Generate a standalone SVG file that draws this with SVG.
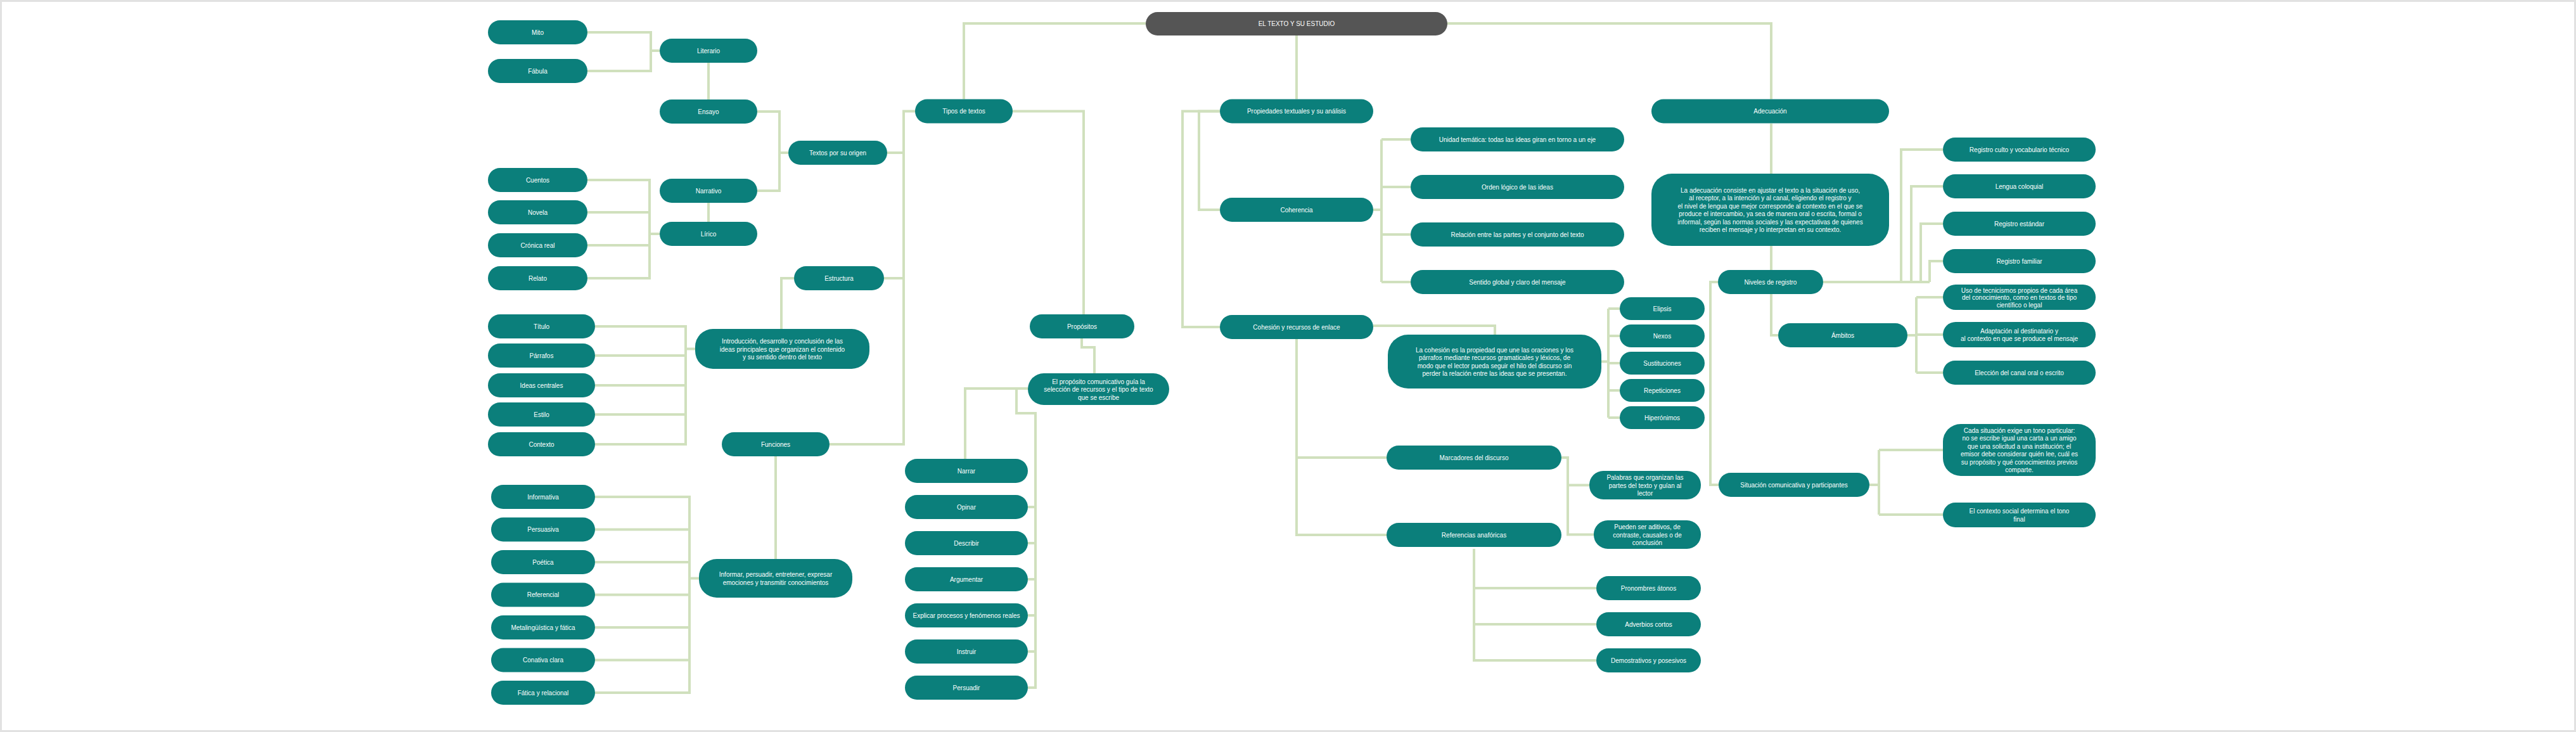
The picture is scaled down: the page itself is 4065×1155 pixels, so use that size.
<svg xmlns="http://www.w3.org/2000/svg" width="4065" height="1155" viewBox="0 0 4065 1155">
<!-- NOTE: the reference image is blurred so that none of its labels can be read, even when zoomed in. All label texts below are invented placeholders, chosen only to roughly match the length and line count of each blurred label. They are not transcriptions of the original. -->
<style>
.bg{fill:#ffffff;stroke:#e2e2e2;stroke-width:3}
.n{fill:#0b7f7b}
.r{fill:#555555}
.t{fill:#ffffff;font-family:"Liberation Sans",Arial,sans-serif;font-size:10px;text-anchor:middle;dominant-baseline:central}
.c{fill:none;stroke:#d0e0bd;stroke-width:4;stroke-linejoin:miter}
</style>
<rect class="bg" x="1.5" y="1.5" width="4062" height="1152"/>
<g id="connectors">
<path class="c" d="M1808,37 H1521 V156.5"/>
<path class="c" d="M2046,56 V156.5"/>
<path class="c" d="M2284,37 H2795 V156.5"/>
<path class="c" d="M927,51 H1027 V112 H927 M1027,80 H1041"/>
<path class="c" d="M1118,99 V157"/>
<path class="c" d="M1195,176 H1230 V301 H1195 M1230,241 H1244"/>
<path class="c" d="M1118,320 V350"/>
<path class="c" d="M927,284 H1025 V439 H927 M927,335 H1025 M927,387 H1025 M1025,369 H1041"/>
<path class="c" d="M1444,175.5 H1426 V701 H1309 M1426,241 H1400 M1426,439 H1395"/>
<path class="c" d="M1253,439 H1233 V519"/>
<path class="c" d="M939,515 H1082 V701 H939 M939,561 H1082 M939,608 H1082 M939,654 H1082 M1082,550.5 H1097"/>
<path class="c" d="M1224,720 V882"/>
<path class="c" d="M939,784 H1088 V1093 H939 M939,835.5 H1088 M939,887 H1088 M939,938.5 H1088 M939,990 H1088 M939,1041.5 H1088 M1088,912.5 H1103"/>
<path class="c" d="M1598,175.5 H1710 V496"/>
<path class="c" d="M1707,534 V548 H1727 V589"/>
<path class="c" d="M1622,613 H1523 V724"/>
<path class="c" d="M1622,613 H1604 V652 H1634 V1085 H1622 M1634,800 H1622 M1634,857 H1622 M1634,914 H1622 M1634,971 H1622 M1634,1028 H1622"/>
<path class="c" d="M1925,175.5 H1892 V331 H1925"/>
<path class="c" d="M1925,175.5 H1866 V516 H1925"/>
<path class="c" d="M2167,331 H2180 M2180,220 V445 M2180,220 H2226 M2180,295 H2226 M2180,370 H2226 M2180,445 H2226"/>
<path class="c" d="M2167,514 H2359 V528"/>
<path class="c" d="M2046,535 V844 H2188 M2046,722 H2188"/>
<path class="c" d="M2464,722 H2474 V843.5 H2515 M2474,765.5 H2508"/>
<path class="c" d="M2326,866 V1042 H2519 M2326,928 H2519 M2326,985 H2519"/>
<path class="c" d="M2527,570.5 H2538 M2538,487 V659 M2538,487 H2556 M2538,530 H2556 M2538,573 H2556 M2538,616 H2556 M2538,659 H2556"/>
<path class="c" d="M2795,195 V274"/>
<path class="c" d="M2795,388 V426"/>
<path class="c" d="M2877,445 H3045 M3000,445 V236 H3066 M3016,445 V294 H3066 M3031,445 V353 H3066 M3045,445 V412 H3066"/>
<path class="c" d="M2795,464 V529 H2806"/>
<path class="c" d="M3010,529 H3024 M3024,469 V588 M3024,469 H3066 M3024,528 H3066 M3024,588 H3066"/>
<path class="c" d="M2711,445 H2699 V765 H2712"/>
<path class="c" d="M2950,765 H2965 M2965,710 V812 M2965,710 H3066 M2965,812 H3066"/>
</g>
<g id="n-root"><rect class="r" x="1808" y="19" width="476" height="37" rx="18.5"/><text class="t" x="2046" y="37.5">EL TEXTO Y SU ESTUDIO</text></g>
<g id="n-l1a"><rect class="n" x="770" y="32" width="157" height="38" rx="19"/><text class="t" x="848.5" y="51">Mito</text></g>
<g id="n-l1b"><rect class="n" x="770" y="93" width="157" height="38" rx="19"/><text class="t" x="848.5" y="112">Fábula</text></g>
<g id="n-j"><rect class="n" x="1041" y="61" width="154" height="38" rx="19"/><text class="t" x="1118" y="80">Literario</text></g>
<g id="n-h"><rect class="n" x="1041" y="157" width="154" height="38" rx="19"/><text class="t" x="1118" y="176">Ensayo</text></g>
<g id="n-b"><rect class="n" x="1244" y="222" width="156" height="38" rx="19"/><text class="t" x="1322" y="241">Textos por su origen</text></g>
<g id="n-l2a"><rect class="n" x="770" y="265" width="157" height="38" rx="19"/><text class="t" x="848.5" y="284">Cuentos</text></g>
<g id="n-l2b"><rect class="n" x="770" y="316" width="157" height="38" rx="19"/><text class="t" x="848.5" y="335">Novela</text></g>
<g id="n-l2c"><rect class="n" x="770" y="368" width="157" height="38" rx="19"/><text class="t" x="848.5" y="387">Crónica real</text></g>
<g id="n-l2d"><rect class="n" x="770" y="420" width="157" height="38" rx="19"/><text class="t" x="848.5" y="439">Relato</text></g>
<g id="n-i"><rect class="n" x="1041" y="282" width="154" height="38" rx="19"/><text class="t" x="1118" y="301">Narrativo</text></g>
<g id="n-k"><rect class="n" x="1041" y="350" width="154" height="38" rx="19"/><text class="t" x="1118" y="369">Lírico</text></g>
<g id="n-c"><rect class="n" x="1253" y="420" width="142" height="38" rx="19"/><text class="t" x="1324" y="439">Estructura</text></g>
<g id="n-l3a"><rect class="n" x="770" y="496" width="169" height="38" rx="19"/><text class="t" x="854.5" y="515">Título</text></g>
<g id="n-l3b"><rect class="n" x="770" y="542" width="169" height="38" rx="19"/><text class="t" x="854.5" y="561">Párrafos</text></g>
<g id="n-l3c"><rect class="n" x="770" y="589" width="169" height="38" rx="19"/><text class="t" x="854.5" y="608">Ideas centrales</text></g>
<g id="n-l3d"><rect class="n" x="770" y="635" width="169" height="38" rx="19"/><text class="t" x="854.5" y="654">Estilo</text></g>
<g id="n-l3e"><rect class="n" x="770" y="682" width="169" height="38" rx="19"/><text class="t" x="854.5" y="701">Contexto</text></g>
<g id="n-m"><rect class="n" x="1097" y="519" width="275" height="63" rx="28"/><text class="t" x="1234.5" y="538"><tspan x="1234.5" y="538">Introducción, desarrollo y conclusión de las</tspan><tspan x="1234.5" y="550.5">ideas principales que organizan el contenido</tspan><tspan x="1234.5" y="563">y su sentido dentro del texto</tspan></text></g>
<g id="n-d"><rect class="n" x="1139" y="682" width="170" height="38" rx="19"/><text class="t" x="1224" y="701">Funciones</text></g>
<g id="n-n"><rect class="n" x="1103" y="882" width="242" height="61" rx="28"/><text class="t" x="1224" y="906"><tspan x="1224" y="906">Informar, persuadir, entretener, expresar</tspan><tspan x="1224" y="918.5">emociones y transmitir conocimientos</tspan></text></g>
<g id="n-l4a"><rect class="n" x="775" y="765" width="164" height="38" rx="19"/><text class="t" x="857" y="784">Informativa</text></g>
<g id="n-l4b"><rect class="n" x="775" y="816.5" width="164" height="38" rx="19"/><text class="t" x="857" y="835.5">Persuasiva</text></g>
<g id="n-l4c"><rect class="n" x="775" y="868" width="164" height="38" rx="19"/><text class="t" x="857" y="887">Poética</text></g>
<g id="n-l4d"><rect class="n" x="775" y="919.5" width="164" height="38" rx="19"/><text class="t" x="857" y="938.5">Referencial</text></g>
<g id="n-l4e"><rect class="n" x="775" y="971" width="164" height="38" rx="19"/><text class="t" x="857" y="990">Metalingüística y fática</text></g>
<g id="n-l4f"><rect class="n" x="775" y="1022.5" width="164" height="38" rx="19"/><text class="t" x="857" y="1041.5">Conativa clara</text></g>
<g id="n-l4g"><rect class="n" x="775" y="1074" width="164" height="38" rx="19"/><text class="t" x="857" y="1093">Fática y relacional</text></g>
<g id="n-a"><rect class="n" x="1444" y="156.5" width="154" height="38" rx="19"/><text class="t" x="1521" y="175.5">Tipos de textos</text></g>
<g id="n-e"><rect class="n" x="1625" y="496" width="165" height="38" rx="19"/><text class="t" x="1707.5" y="515">Propósitos</text></g>
<g id="n-f"><rect class="n" x="1622" y="589" width="223" height="50" rx="25"/><text class="t" x="1733.5" y="601.5"><tspan x="1733.5" y="601.5">El propósito comunicativo guía la</tspan><tspan x="1733.5" y="614">selección de recursos y el tipo de texto</tspan><tspan x="1733.5" y="626.5">que se escribe</tspan></text></g>
<g id="n-g1"><rect class="n" x="1428" y="724" width="194" height="38" rx="19"/><text class="t" x="1525" y="743">Narrar</text></g>
<g id="n-g2"><rect class="n" x="1428" y="781" width="194" height="38" rx="19"/><text class="t" x="1525" y="800">Opinar</text></g>
<g id="n-g3"><rect class="n" x="1428" y="838" width="194" height="38" rx="19"/><text class="t" x="1525" y="857">Describir</text></g>
<g id="n-g4"><rect class="n" x="1428" y="895" width="194" height="38" rx="19"/><text class="t" x="1525" y="914">Argumentar</text></g>
<g id="n-g5"><rect class="n" x="1428" y="952" width="194" height="38" rx="19"/><text class="t" x="1525" y="971">Explicar procesos y fenómenos reales</text></g>
<g id="n-g6"><rect class="n" x="1428" y="1009" width="194" height="38" rx="19"/><text class="t" x="1525" y="1028">Instruir</text></g>
<g id="n-g7"><rect class="n" x="1428" y="1066" width="194" height="38" rx="19"/><text class="t" x="1525" y="1085">Persuadir</text></g>
<g id="n-p"><rect class="n" x="1925" y="156.5" width="242" height="38" rx="19"/><text class="t" x="2046" y="175.5">Propiedades textuales y su análisis</text></g>
<g id="n-q"><rect class="n" x="1925" y="312" width="242" height="38" rx="19"/><text class="t" x="2046" y="331">Coherencia</text></g>
<g id="n-r"><rect class="n" x="1925" y="497" width="242" height="38" rx="19"/><text class="t" x="2046" y="516">Cohesión y recursos de enlace</text></g>
<g id="n-s1"><rect class="n" x="2226" y="201" width="337" height="38" rx="19"/><text class="t" x="2394.5" y="220">Unidad temática: todas las ideas giran en torno a un eje</text></g>
<g id="n-s2"><rect class="n" x="2226" y="276" width="337" height="38" rx="19"/><text class="t" x="2394.5" y="295">Orden lógico de las ideas</text></g>
<g id="n-s3"><rect class="n" x="2226" y="351" width="337" height="38" rx="19"/><text class="t" x="2394.5" y="370">Relación entre las partes y el conjunto del texto</text></g>
<g id="n-s4"><rect class="n" x="2226" y="426" width="337" height="38" rx="19"/><text class="t" x="2394.5" y="445">Sentido global y claro del mensaje</text></g>
<g id="n-t"><rect class="n" x="2190" y="528" width="337" height="85" rx="32"/><text class="t" x="2358.5" y="551.75"><tspan x="2358.5" y="551.75">La cohesión es la propiedad que une las oraciones y los</tspan><tspan x="2358.5" y="564.25">párrafos mediante recursos gramaticales y léxicos, de</tspan><tspan x="2358.5" y="576.75">modo que el lector pueda seguir el hilo del discurso sin</tspan><tspan x="2358.5" y="589.25">perder la relación entre las ideas que se presentan.</tspan></text></g>
<g id="n-ee1"><rect class="n" x="2556" y="469" width="134" height="36" rx="18"/><text class="t" x="2623" y="487">Elipsis</text></g>
<g id="n-ee2"><rect class="n" x="2556" y="512" width="134" height="36" rx="18"/><text class="t" x="2623" y="530">Nexos</text></g>
<g id="n-ee3"><rect class="n" x="2556" y="555" width="134" height="36" rx="18"/><text class="t" x="2623" y="573">Sustituciones</text></g>
<g id="n-ee4"><rect class="n" x="2556" y="598" width="134" height="36" rx="18"/><text class="t" x="2623" y="616">Repeticiones</text></g>
<g id="n-ee5"><rect class="n" x="2556" y="641" width="134" height="36" rx="18"/><text class="t" x="2623" y="659">Hiperónimos</text></g>
<g id="n-u"><rect class="n" x="2188" y="703" width="276" height="38" rx="19"/><text class="t" x="2326" y="722">Marcadores del discurso</text></g>
<g id="n-v"><rect class="n" x="2188" y="825" width="276" height="38" rx="19"/><text class="t" x="2326" y="844">Referencias anafóricas</text></g>
<g id="n-w1"><rect class="n" x="2508" y="743" width="176" height="45" rx="22"/><text class="t" x="2596" y="753"><tspan x="2596" y="753">Palabras que organizan las</tspan><tspan x="2596" y="765.5">partes del texto y guían al</tspan><tspan x="2596" y="778">lector</tspan></text></g>
<g id="n-w2"><rect class="n" x="2515" y="821" width="169" height="45" rx="22"/><text class="t" x="2599.5" y="831"><tspan x="2599.5" y="831">Pueden ser aditivos, de</tspan><tspan x="2599.5" y="843.5">contraste, causales o de</tspan><tspan x="2599.5" y="856">conclusión</tspan></text></g>
<g id="n-x1"><rect class="n" x="2519" y="909" width="165" height="38" rx="19"/><text class="t" x="2601.5" y="928">Pronombres átonos</text></g>
<g id="n-x2"><rect class="n" x="2519" y="966" width="165" height="38" rx="19"/><text class="t" x="2601.5" y="985">Adverbios cortos</text></g>
<g id="n-x3"><rect class="n" x="2519" y="1023" width="165" height="38" rx="19"/><text class="t" x="2601.5" y="1042">Demostrativos y posesivos</text></g>
<g id="n-y"><rect class="n" x="2606" y="156.5" width="375" height="38" rx="19"/><text class="t" x="2793.5" y="175.5">Adecuación</text></g>
<g id="n-z"><rect class="n" x="2606" y="274" width="375" height="114" rx="32"/><text class="t" x="2793.5" y="299.75"><tspan x="2793.5" y="299.75">La adecuación consiste en ajustar el texto a la situación de uso,</tspan><tspan x="2793.5" y="312.25">al receptor, a la intención y al canal, eligiendo el registro y</tspan><tspan x="2793.5" y="324.75">el nivel de lengua que mejor corresponde al contexto en el que se</tspan><tspan x="2793.5" y="337.25">produce el intercambio, ya sea de manera oral o escrita, formal o</tspan><tspan x="2793.5" y="349.75">informal, según las normas sociales y las expectativas de quienes</tspan><tspan x="2793.5" y="362.25">reciben el mensaje y lo interpretan en su contexto.</tspan></text></g>
<g id="n-aa"><rect class="n" x="2711" y="426" width="166" height="38" rx="19"/><text class="t" x="2794" y="445">Niveles de registro</text></g>
<g id="n-bb1"><rect class="n" x="3066" y="217" width="241" height="38" rx="19"/><text class="t" x="3186.5" y="236">Registro culto y vocabulario técnico</text></g>
<g id="n-bb2"><rect class="n" x="3066" y="275" width="241" height="38" rx="19"/><text class="t" x="3186.5" y="294">Lengua coloquial</text></g>
<g id="n-bb3"><rect class="n" x="3066" y="334" width="241" height="38" rx="19"/><text class="t" x="3186.5" y="353">Registro estándar</text></g>
<g id="n-bb4"><rect class="n" x="3066" y="393" width="241" height="38" rx="19"/><text class="t" x="3186.5" y="412">Registro familiar</text></g>
<g id="n-bb5"><rect class="n" x="3066" y="449" width="241" height="40" rx="20"/><text class="t" x="3186.5" y="457.5"><tspan x="3186.5" y="457.5">Uso de tecnicismos propios de cada área</tspan><tspan x="3186.5" y="469">del conocimiento, como en textos de tipo</tspan><tspan x="3186.5" y="480.5">científico o legal</tspan></text></g>
<g id="n-bb6"><rect class="n" x="3066" y="508" width="241" height="40" rx="20"/><text class="t" x="3186.5" y="521.5"><tspan x="3186.5" y="521.5">Adaptación al destinatario y</tspan><tspan x="3186.5" y="534">al contexto en que se produce el mensaje</tspan></text></g>
<g id="n-bb7"><rect class="n" x="3066" y="569" width="241" height="38" rx="19"/><text class="t" x="3186.5" y="588">Elección del canal oral o escrito</text></g>
<g id="n-cc"><rect class="n" x="2806" y="510" width="204" height="38" rx="19"/><text class="t" x="2908" y="529">Ámbitos</text></g>
<g id="n-dd"><rect class="n" x="2712" y="746" width="238" height="38" rx="19"/><text class="t" x="2831" y="765">Situación comunicativa y participantes</text></g>
<g id="n-ff1"><rect class="n" x="3066" y="669" width="241" height="82" rx="28"/><text class="t" x="3186.5" y="678.75"><tspan x="3186.5" y="678.75">Cada situación exige un tono particular:</tspan><tspan x="3186.5" y="691.25">no se escribe igual una carta a un amigo</tspan><tspan x="3186.5" y="703.75">que una solicitud a una institución; el</tspan><tspan x="3186.5" y="716.25">emisor debe considerar quién lee, cuál es</tspan><tspan x="3186.5" y="728.75">su propósito y qué conocimientos previos</tspan><tspan x="3186.5" y="741.25">comparte.</tspan></text></g>
<g id="n-ff2"><rect class="n" x="3066" y="793" width="241" height="39" rx="19.5"/><text class="t" x="3186.5" y="806.25"><tspan x="3186.5" y="806.25">El contexto social determina el tono</tspan><tspan x="3186.5" y="818.75">final</tspan></text></g>
</svg>
